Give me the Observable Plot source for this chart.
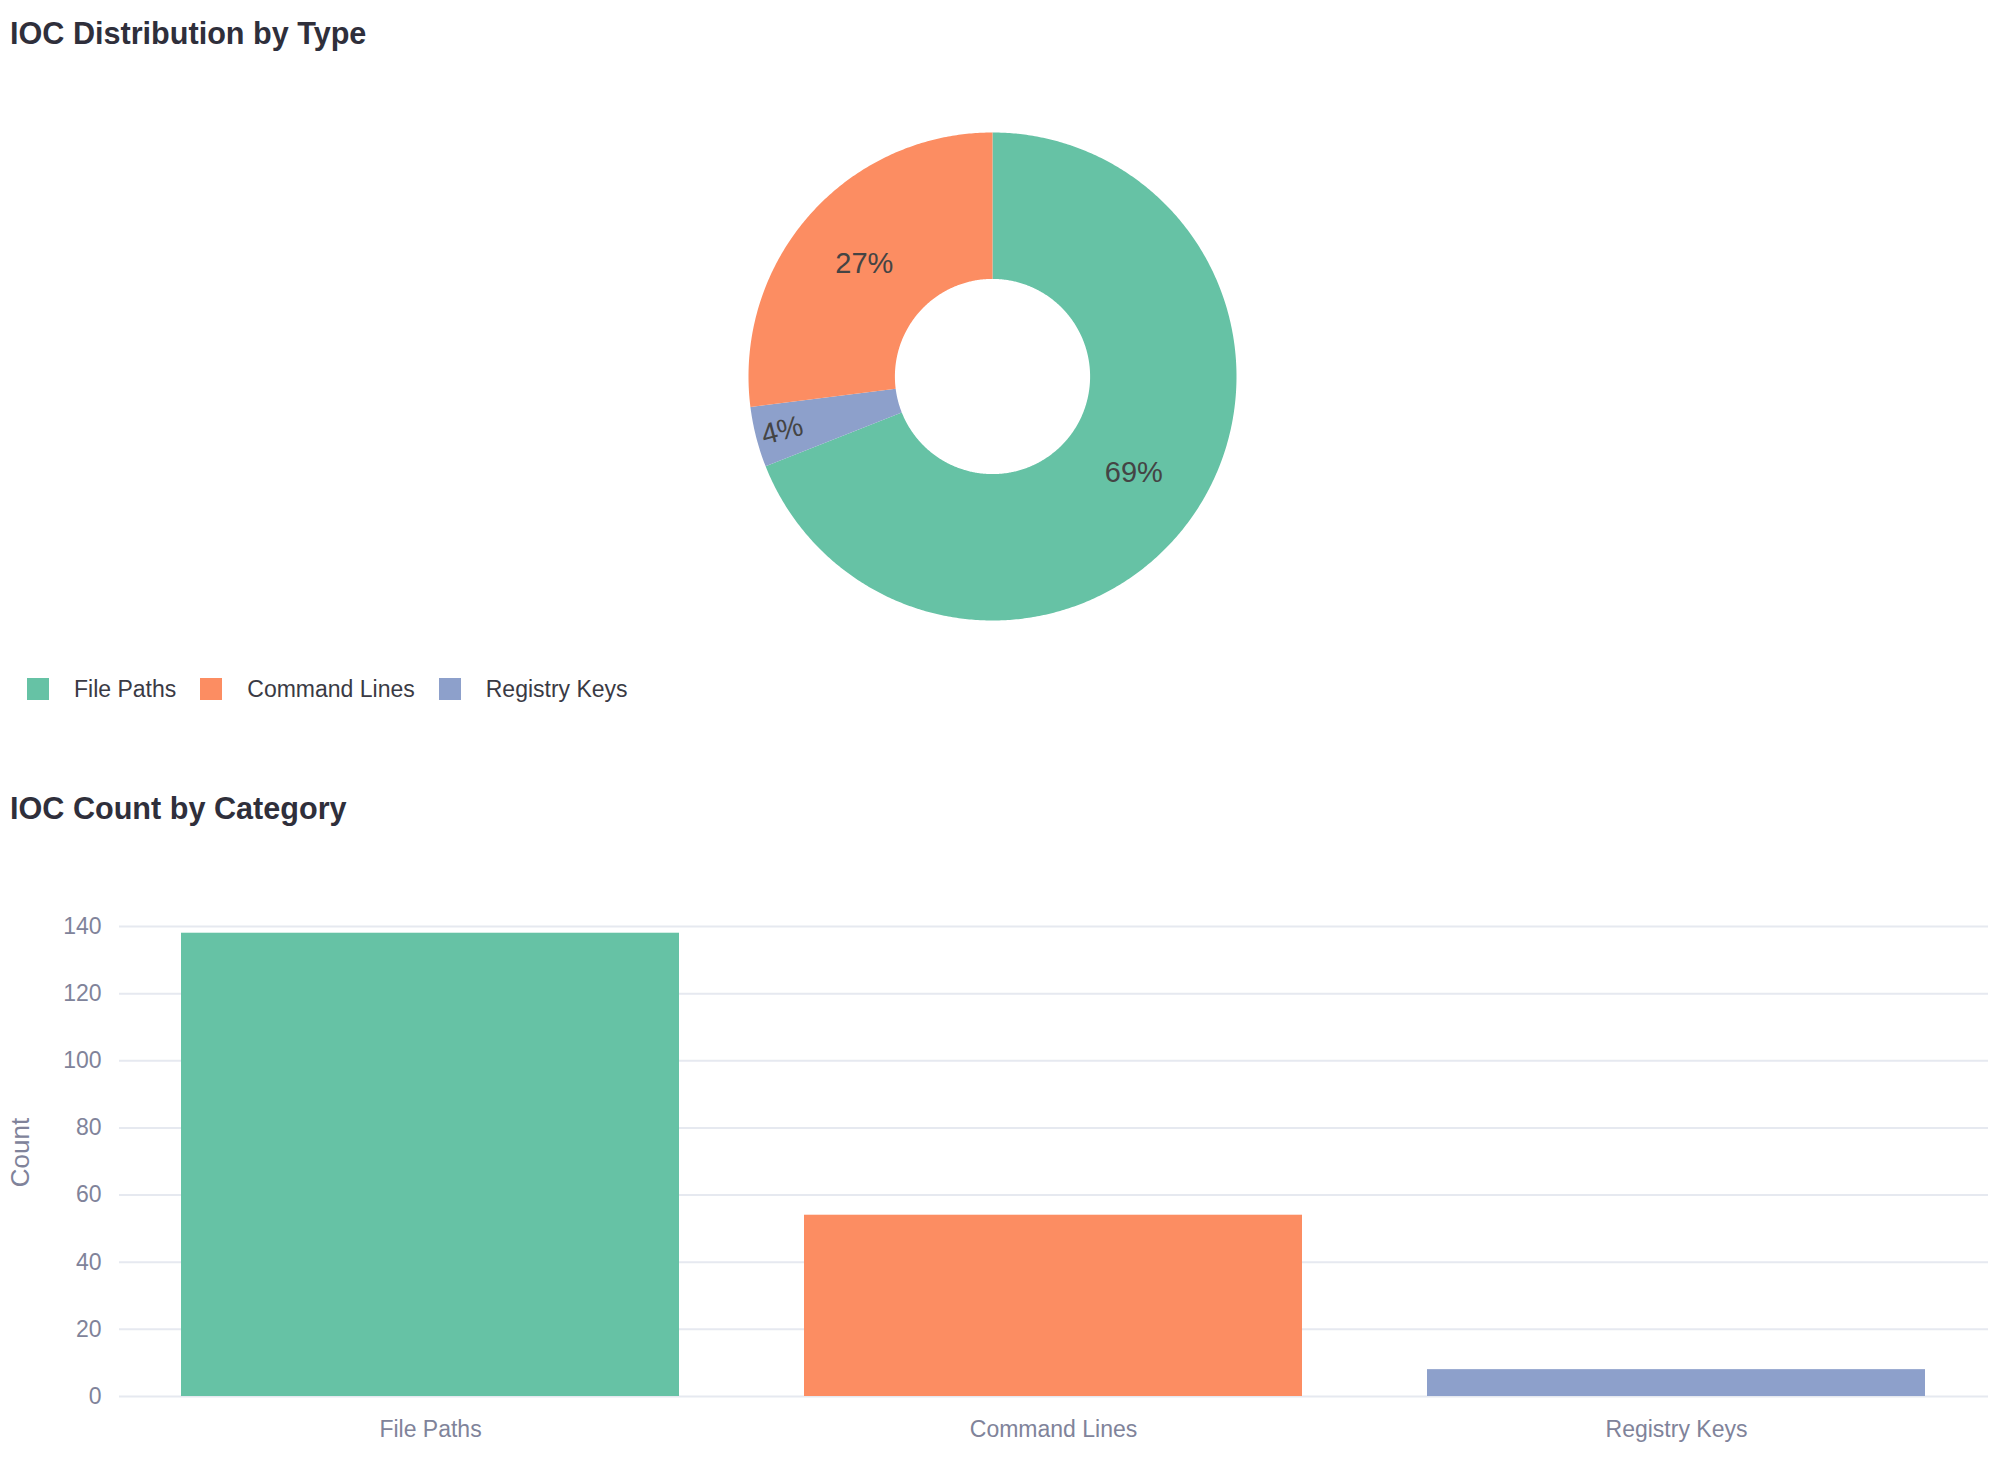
<!DOCTYPE html>
<html><head><meta charset="utf-8">
<script src="https://cdn.jsdelivr.net/npm/d3@7"></script>
<script src="https://cdn.jsdelivr.net/npm/@observablehq/plot@0.6"></script>
<style>
html,body{margin:0;padding:0;background:#fff;}
body{width:2000px;height:1479px;position:relative;overflow:hidden;font-family:"Liberation Sans",Arial,sans-serif;}
.title{position:absolute;left:10px;font-size:30.6px;font-weight:bold;line-height:30px;color:#2f2f3b;white-space:nowrap;}
#legend{position:absolute;left:27px;top:672px;height:34px;display:flex;align-items:center;white-space:nowrap;}
.sw{width:22px;height:22px;flex:none;}
.lab{font-size:23px;color:#3a3a44;margin-left:25px;margin-right:24px;line-height:30px;}
#donut{position:absolute;left:748px;top:132px;}
#bars{position:absolute;left:0;top:860px;}
svg{overflow:visible;}
</style></head><body>
<div class="title" style="top:18px">IOC Distribution by Type</div>
<div id="donut"></div>
<div id="legend"></div>
<div class="title" style="top:793px">IOC Count by Category</div>
<div id="bars"></div>
<script>
const categories = ["File Paths", "Command Lines", "Registry Keys"];
const counts = [138, 54, 8];
const colors = ["#66c2a5", "#fc8d62", "#8da0cb"];
const clockwiseOrder = ["File Paths", "Registry Keys", "Command Lines"];
const yTicks = [0, 20, 40, 60, 80, 100, 120, 140];
const yLabel = "Count";

const rows = categories.map((c, i) => ({category: c, count: counts[i]}));
const total = d3.sum(counts);
const inner = 0.4;
const polys = [], labels = [];
let start = 0;
for (const name of clockwiseOrder) {
  const v = counts[categories.indexOf(name)];
  const share = v / total;
  const a0 = start, a1 = start + share * 2 * Math.PI;
  start = a1;
  const n = Math.max(2, Math.ceil((a1 - a0) / (Math.PI / 360)));
  for (let k = 0; k <= n; k++) { const a = a0 + (a1 - a0) * k / n; polys.push({category: name, x: Math.sin(a), y: Math.cos(a)}); }
  for (let k = n; k >= 0; k--) { const a = a0 + (a1 - a0) * k / n; polys.push({category: name, x: inner * Math.sin(a), y: inner * Math.cos(a)}); }
  const am = (a0 + a1) / 2;
  const small = share < 0.1;
  const r = small ? 0.89 : (1 + inner) / 2;
  let rot = 0;
  if (small) { rot = am * 180 / Math.PI - 90; while (rot > 90) rot -= 180; while (rot < -90) rot += 180; }
  labels.push({x: r * Math.sin(am), y: r * Math.cos(am), text: Math.round(share * 100) + "%", rotate: rot});
}

const donut = Plot.plot({
  width: 488, height: 488, margin: 0,
  x: {domain: [-1, 1], axis: null},
  y: {domain: [-1, 1], axis: null},
  color: {domain: categories, range: colors},
  style: {fontFamily: "Liberation Sans, Arial, sans-serif", background: "transparent", overflow: "visible"},
  marks: [
    Plot.line(polys, {x: "x", y: "y", z: "category", fill: "category", stroke: "none"}),
    Plot.text(labels, {x: "x", y: "y", text: "text", rotate: "rotate", fill: "#444444", fontSize: 29})
  ]
});
document.getElementById("donut").append(donut);

const leg = document.getElementById("legend");
categories.forEach((c, i) => {
  const sw = document.createElement("div"); sw.className = "sw"; sw.style.background = colors[i];
  const lb = document.createElement("div"); lb.className = "lab"; lb.textContent = c;
  leg.append(sw, lb);
});

const bars = Plot.plot({
  width: 2000, height: 619,
  marginLeft: 119, marginRight: 12, marginTop: 66, marginBottom: 83,
  style: {fontFamily: "Liberation Sans, Arial, sans-serif", fontSize: "23px", color: "#80839a", background: "transparent"},
  x: {domain: categories, paddingInner: 0.2, paddingOuter: 0.1, label: null},
  y: {domain: [0, 140], label: null},
  color: {domain: categories, range: colors},
  marks: [
    Plot.gridY(yTicks, {stroke: "#e6e9f0", strokeOpacity: 1, strokeWidth: 2}),
    Plot.barY(rows, {x: "category", y: "count", fill: "category"}),
    Plot.axisY(yTicks, {tickSize: 0, tickPadding: 18, label: null}),
    Plot.axisX({tickSize: 0, tickPadding: 24, label: null}),
    Plot.text([yLabel], {text: d => d, frameAnchor: "left", textAnchor: "middle", rotate: -90, dx: -99, dy: -9, fontSize: 26, fill: "#80839a"})
  ]
});
document.getElementById("bars").append(bars);
</script>
</body></html>
